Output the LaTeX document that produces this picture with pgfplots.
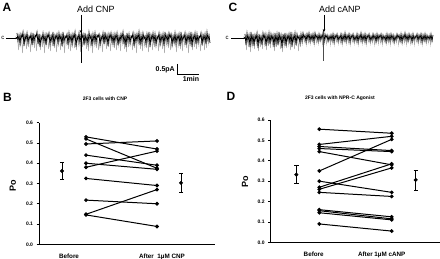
\documentclass[border=0pt]{standalone}
\usepackage{fontspec}
\setmainfont{Liberation Sans}
\usepackage{pgfplots}
\usepackage{pgfplotstable}
\pgfplotsset{compat=1.18}
\usetikzlibrary{arrows.meta}
\newcommand{\fs}[1]{\fontsize{#1}{#1}\selectfont}

% trace A, black core (x = 17, 18, ...)
\pgfplotstableread[header=false,row sep=\\]{
33\\41\\35\\44\\34\\38\\32\\46\\35\\40\\33\\43\\36\\39\\34\\45\\33\\42\\35\\37\\
32\\44\\34\\47\\36\\40\\33\\42\\35\\45\\34\\38\\33\\44\\36\\41\\32\\46\\35\\39\\
34\\43\\33\\40\\35\\46\\32\\42\\36\\38\\34\\45\\33\\41\\35\\44\\34\\39\\32\\47\\
36\\40\\33\\43\\35\\38\\34\\45\\33\\42\\36\\44\\32\\39\\35\\46\\34\\41\\33\\43\\
35\\37\\34\\45\\36\\40\\33\\44\\32\\41\\35\\46\\34\\39\\33\\42\\35\\44\\34\\40\\
33\\45\\36\\42\\34\\39\\32\\44\\35\\47\\33\\41\\34\\43\\36\\38\\33\\46\\35\\42\\
34\\40\\32\\45\\35\\43\\33\\39\\36\\44\\34\\41\\32\\47\\35\\40\\33\\42\\34\\45\\
36\\39\\33\\44\\35\\41\\34\\46\\32\\40\\35\\43\\33\\38\\34\\45\\36\\42\\33\\44\\
35\\40\\34\\46\\32\\42\\36\\39\\33\\45\\35\\41\\34\\43\\32\\47\\35\\40\\33\\44\\
34\\42\\36\\38\\33\\45\\35\\41\\34\\44\\32\\40\\35\\43\\
}\traceAblack
% trace A, grey excursions (x = 17.5, 18.5, ...)
\pgfplotstableread[header=false,row sep=\\]{
37\\50\\35\\46\\36\\53\\35\\44\\37\\49\\34\\47\\36\\52\\35\\45\\37\\48\\35\\51\\
36\\44\\34\\50\\37\\47\\35\\53\\36\\45\\35\\49\\37\\51\\34\\46\\36\\48\\35\\52\\
37\\45\\35\\50\\36\\47\\34\\53\\37\\44\\35\\49\\36\\51\\35\\46\\37\\48\\34\\50\\
36\\45\\35\\52\\37\\47\\35\\44\\36\\49\\34\\51\\37\\46\\35\\53\\36\\45\\35\\48\\
37\\50\\34\\46\\36\\52\\35\\44\\37\\49\\35\\47\\36\\51\\35\\45\\36\\48\\35\\50\\
35\\46\\37\\51\\36\\44\\34\\49\\36\\52\\35\\47\\37\\45\\35\\50\\36\\48\\34\\53\\
37\\44\\35\\49\\36\\51\\35\\46\\37\\48\\34\\52\\36\\45\\35\\50\\37\\47\\35\\44\\
36\\51\\34\\46\\37\\49\\35\\53\\36\\45\\35\\48\\37\\50\\34\\47\\36\\44\\35\\52\\
37\\46\\35\\49\\36\\51\\34\\45\\37\\48\\35\\53\\36\\44\\35\\50\\37\\47\\36\\49\\
35\\45\\37\\51\\36\\46\\34\\50\\36\\48\\35\\44\\37\\
}\traceAgray
% trace C, black core (x = 245, 246, ...)
\pgfplotstableread[header=false,row sep=\\]{
34\\45\\33\\41\\35\\47\\32\\43\\34\\46\\35\\40\\33\\48\\34\\42\\36\\45\\33\\39\\
34\\46\\35\\42\\33\\44\\34\\40\\35\\47\\33\\43\\34\\45\\32\\41\\35\\48\\34\\42\\
33\\46\\35\\40\\34\\44\\32\\47\\35\\41\\33\\45\\34\\39\\36\\43\\
34\\41\\33\\38\\35\\42\\34\\39\\33\\41\\35\\40\\34\\42\\33\\38\\35\\41\\34\\40\\
35\\39\\33\\42\\34\\38\\35\\41\\36\\40\\
35\\40\\34\\42\\35\\38\\34\\41\\36\\39\\34\\42\\35\\40\\33\\41\\35\\39\\34\\42\\
35\\38\\34\\41\\36\\40\\34\\42\\35\\39\\33\\41\\35\\40\\34\\42\\35\\38\\34\\41\\
36\\40\\34\\39\\35\\42\\34\\40\\35\\38\\34\\41\\35\\39\\36\\42\\34\\40\\35\\41\\
34\\39\\35\\42\\36\\40\\34\\38\\35\\41\\34\\42\\35\\39\\33\\40\\35\\41\\34\\39\\
35\\42\\34\\40\\36\\38\\34\\41\\35\\39\\34\\42\\35\\40\\34\\41\\35\\39\\36\\40\\
34\\41\\35\\
}\traceCblack
% trace C, grey excursions (x = 245.5, 246.5, ...)
\pgfplotstableread[header=false,row sep=\\]{
36\\50\\35\\47\\36\\52\\35\\46\\37\\49\\35\\44\\36\\51\\35\\47\\36\\49\\35\\45\\
37\\50\\35\\46\\36\\48\\35\\45\\36\\51\\35\\47\\37\\44\\35\\49\\36\\52\\35\\46\\
37\\48\\35\\45\\36\\50\\35\\44\\37\\49\\35\\46\\36\\51\\35\\47\\
36\\44\\35\\42\\36\\45\\35\\43\\37\\44\\35\\42\\36\\45\\35\\43\\36\\44\\35\\42\\
36\\45\\35\\43\\37\\44\\35\\42\\36\\45\\
36\\43\\35\\45\\36\\42\\35\\44\\37\\43\\35\\45\\36\\42\\35\\44\\36\\43\\35\\45\\
36\\42\\35\\44\\37\\43\\35\\45\\36\\42\\35\\44\\36\\43\\35\\45\\36\\42\\35\\44\\
37\\43\\35\\45\\36\\42\\35\\44\\36\\43\\35\\45\\37\\42\\35\\44\\36\\43\\35\\45\\
36\\42\\35\\44\\37\\43\\35\\45\\36\\42\\35\\44\\36\\43\\35\\45\\36\\42\\35\\44\\
37\\43\\35\\45\\36\\42\\35\\44\\36\\43\\35\\45\\36\\42\\35\\44\\37\\43\\35\\45\\
36\\42\\
}\traceCgray

\pgfplotsset{
  pair/.style={black, line width=1pt, mark=*, mark size=1.35pt},
  meanbar/.style={black, only marks, mark=*, mark size=1.8pt,
    error bars/.cd, y dir=both, y explicit,
    error bar style={line width=0.8pt},
    error mark options={rotate=90, line width=0.8pt, mark size=2.2pt}},
  panel/.style={scale only axis, anchor=south west, ymin=0, ymax=0.6,
    axis x line=bottom, axis y line=left,
    axis line style={-, line width=0.8pt},
    ytick={0,0.1,0.2,0.3,0.4,0.5,0.6},
    yticklabel style={font=\bfseries\fs{5}},
    /pgf/number format/.cd, fixed, fixed zerofill, precision=1, assume math mode=true,
    /pgfplots/.cd,
    tick align=outside, major tick length=2.5pt,
    tick style={line width=0.6pt, black},
    major x tick style={draw=none},
    xticklabel style={font=\bfseries\fs{6.3}, yshift=-3.5pt},
    clip=false},
}

\begin{document}
\begin{tikzpicture}
\useasboundingbox (0,0) rectangle (440pt,259pt);

% ---- overlay: traces, annotations ----
\begin{axis}[at={(0pt,0pt)}, anchor=south west, scale only axis,
  width=440pt, height=259pt, xmin=0, xmax=440, ymin=0, ymax=259,
  y dir=reverse, axis lines=none, clip=false]
% trace A
\addplot[gray!65, line width=0.45pt] table[x expr=\coordindex+17.5, y index=0] {\traceAgray};
\addplot[black, line width=0.7pt] table[x expr=\coordindex+17, y index=0] {\traceAblack};
\addplot[black, line width=0.5pt] coordinates {(81,30) (81,63)};
\addplot[black, line width=0.6pt, -{Stealth[length=3pt,width=2.6pt]}] coordinates {(81,15) (81,33)};
\addplot[black, line width=0.6pt, -{Stealth[length=2.5pt,width=2.2pt]}] coordinates {(6,38) (18,38)};
\node[font=\fs{6}] at (axis cs:3,37.5) {c};
\node[anchor=west, font=\fs{9}, inner sep=0pt] at (axis cs:77,9.5) {Add CNP};
% scale bar
\addplot[black, line width=0.7pt] coordinates {(177,64) (177,74) (199,74)};
\node[anchor=east, font=\bfseries\fs{7}, inner sep=0pt] at (axis cs:175,70) {0.5pA};
\node[font=\bfseries\fs{7}, inner sep=0pt] at (axis cs:191,78.5) {1min};
% trace C
\addplot[gray!65, line width=0.45pt] table[x expr=\coordindex+245.5, y index=0] {\traceCgray};
\addplot[black, line width=0.7pt] table[x expr=\coordindex+245, y index=0] {\traceCblack};
\addplot[black!70, line width=0.5pt] coordinates {(323,30) (323,61)};
\addplot[black, line width=0.6pt, -{Stealth[length=3pt,width=2.6pt]}] coordinates {(324,15) (324,32)};
\addplot[black, line width=0.6pt, -{Stealth[length=2.5pt,width=2.2pt]}] coordinates {(231,38) (246,38)};
\node[font=\fs{6}] at (axis cs:227,37.5) {c};
\node[anchor=west, font=\fs{9}, inner sep=0pt] at (axis cs:319,9.5) {Add cANP};
% panel letters
\node[font=\bfseries\fs{12}] at (axis cs:7,7) {A};
\node[font=\bfseries\fs{12}] at (axis cs:7.5,97.5) {B};
\node[font=\bfseries\fs{12}] at (axis cs:233,7) {C};
\node[font=\bfseries\fs{12}] at (axis cs:231,96.5) {D};
% titles and y labels
\node[font=\bfseries\fs{5}] at (axis cs:105,99) {2F3 cells with CNP};
\node[font=\bfseries\fs{5}] at (axis cs:340,98.5) {2F3 cells with NPR-C Agonist};
\node[font=\bfseries\fs{9}, rotate=90] at (axis cs:12.7,186) {Po};
\node[font=\bfseries\fs{9}, rotate=90] at (axis cs:245,182) {Po};
\end{axis}

% ---- panel B ----
\begin{axis}[panel, at={(39pt,14.7pt)}, width=176pt, height=121.6pt,
  xmin=39, xmax=215, xtick={69,162}, xticklabels={Before, After\ \ 1µM CNP}]
\addplot[pair] coordinates {(86,0.53) (157,0.47)};
\addplot[pair] coordinates {(86,0.52) (157,0.375)};
\addplot[pair] coordinates {(86,0.495) (157,0.51)};
\addplot[pair] coordinates {(86,0.44) (157,0.39)};
\addplot[pair] coordinates {(86,0.40) (157,0.37)};
\addplot[pair] coordinates {(86,0.38) (157,0.46)};
\addplot[pair] coordinates {(86,0.325) (157,0.29)};
\addplot[pair] coordinates {(86,0.218) (157,0.20)};
\addplot[pair] coordinates {(86,0.148) (157,0.27)};
\addplot[pair] coordinates {(86,0.145) (157,0.088)};
\addplot[meanbar] coordinates {(62,0.362) +- (0,0.043) (181,0.303) +- (0,0.046)};
\end{axis}

% ---- panel D ----
\begin{axis}[panel, at={(270.7pt,16.7pt)}, width=169.3pt, height=122.3pt,
  xmin=270.7, xmax=440, xtick={313.7,381.7}, xticklabels={Before, After 1µM cANP}]
\addplot[pair] coordinates {(319.3,0.555) (391.7,0.535)};
\addplot[pair] coordinates {(319.3,0.48) (391.7,0.52)};
\addplot[pair] coordinates {(319.3,0.47) (391.7,0.45)};
\addplot[pair] coordinates {(319.3,0.46) (391.7,0.445)};
\addplot[pair] coordinates {(319.3,0.445) (391.7,0.38)};
\addplot[pair] coordinates {(319.3,0.35) (391.7,0.505)};
\addplot[pair] coordinates {(319.3,0.30) (391.7,0.245)};
\addplot[pair] coordinates {(319.3,0.27) (391.7,0.385)};
\addplot[pair] coordinates {(319.3,0.26) (391.7,0.365)};
\addplot[pair] coordinates {(319.3,0.245) (391.7,0.225)};
\addplot[pair] coordinates {(319.3,0.16) (391.7,0.125)};
\addplot[pair] coordinates {(319.3,0.155) (391.7,0.115)};
\addplot[pair] coordinates {(319.3,0.145) (391.7,0.11)};
\addplot[pair] coordinates {(319.3,0.09) (391.7,0.055)};
\addplot[meanbar] coordinates {(296.3,0.332) +- (0,0.043) (415.7,0.306) +- (0,0.049)};
\end{axis}
\end{tikzpicture}
\end{document}
